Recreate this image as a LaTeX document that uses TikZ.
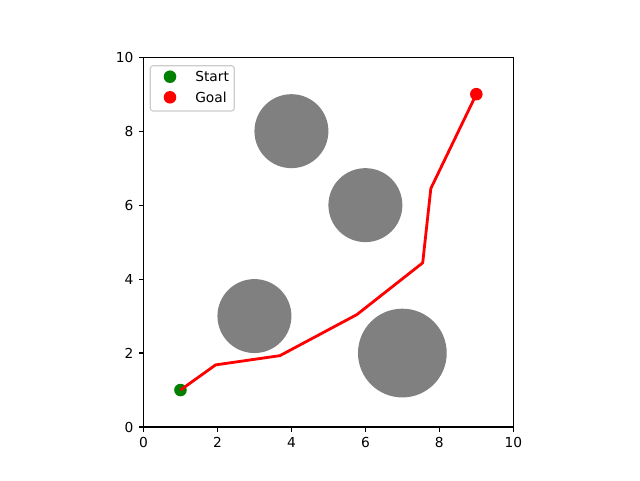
\documentclass[tikz,border=0pt]{standalone}
\usepackage{fontspec}
\setmainfont{DejaVu Sans}
\definecolor{obstgray}{HTML}{808080}
\definecolor{startgreen}{HTML}{008000}
\definecolor{legendedge}{HTML}{CCCCCC}

\begin{document}
\begin{tikzpicture}[x=0.925cm,y=0.925cm,font=\fontsize{9.8}{12}\selectfont,
  axisline/.style={line width=0.8pt,line cap=rect},
  tickmark/.style={line width=0.8pt},
  ticklabel/.style={inner sep=0pt},
  marker/.style={circle,inner sep=0pt,minimum size=0.34*0.925cm}]
\useasboundingbox (-3.88,-1.433) rectangle (13.426,11.547);

% obstacles
\foreach \cx/\cy/\r in {4/8/1,6/6/1,3/3/1,7/2/1.2}
  \fill[obstgray] (\cx,\cy) circle (\r);

% start and goal
\node[marker,fill=startgreen] (start) at (1,1) {};
\node[marker,fill=red] (goal) at (9,9) {};

% planned path
\draw[red,line width=2pt,line join=round] (start.center) -- (1.95,1.68) -- (3.69,1.93)
  -- (5.77,3.04) -- (7.55,4.44) -- (7.77,6.45) -- (goal.center);

% axes
\draw[axisline] (0,0) rectangle (10,10);
\foreach \x in {0,2,...,10}
{
  \draw[tickmark] (\x,0) -- (\x,-0.131);
  \node[ticklabel,anchor=north] (xl\x) at (\x,-0.263) {\x};
}
\foreach \y in {0,2,...,10}
{
  \draw[tickmark] (0,\y) -- (-0.131,\y);
  \node[ticklabel,anchor=east] (yl\y) at (-0.263,\y) {\y};
}

% legend
\draw[legendedge,fill=white,fill opacity=0.8,rounded corners=2pt,line width=0.8pt]
  (0.184,8.545) rectangle (2.455,9.77);
\node[marker,fill=startgreen] (legstart) at (0.717,9.473) {};
\node[marker,fill=red] (leggoal) at (0.717,8.916) {};
\node[ticklabel,anchor=west] (legstarttext) at (1.393,9.473) {Start};
\node[ticklabel,anchor=west] (leggoaltext) at (1.393,8.916) {Goal};
\end{tikzpicture}
\end{document}
